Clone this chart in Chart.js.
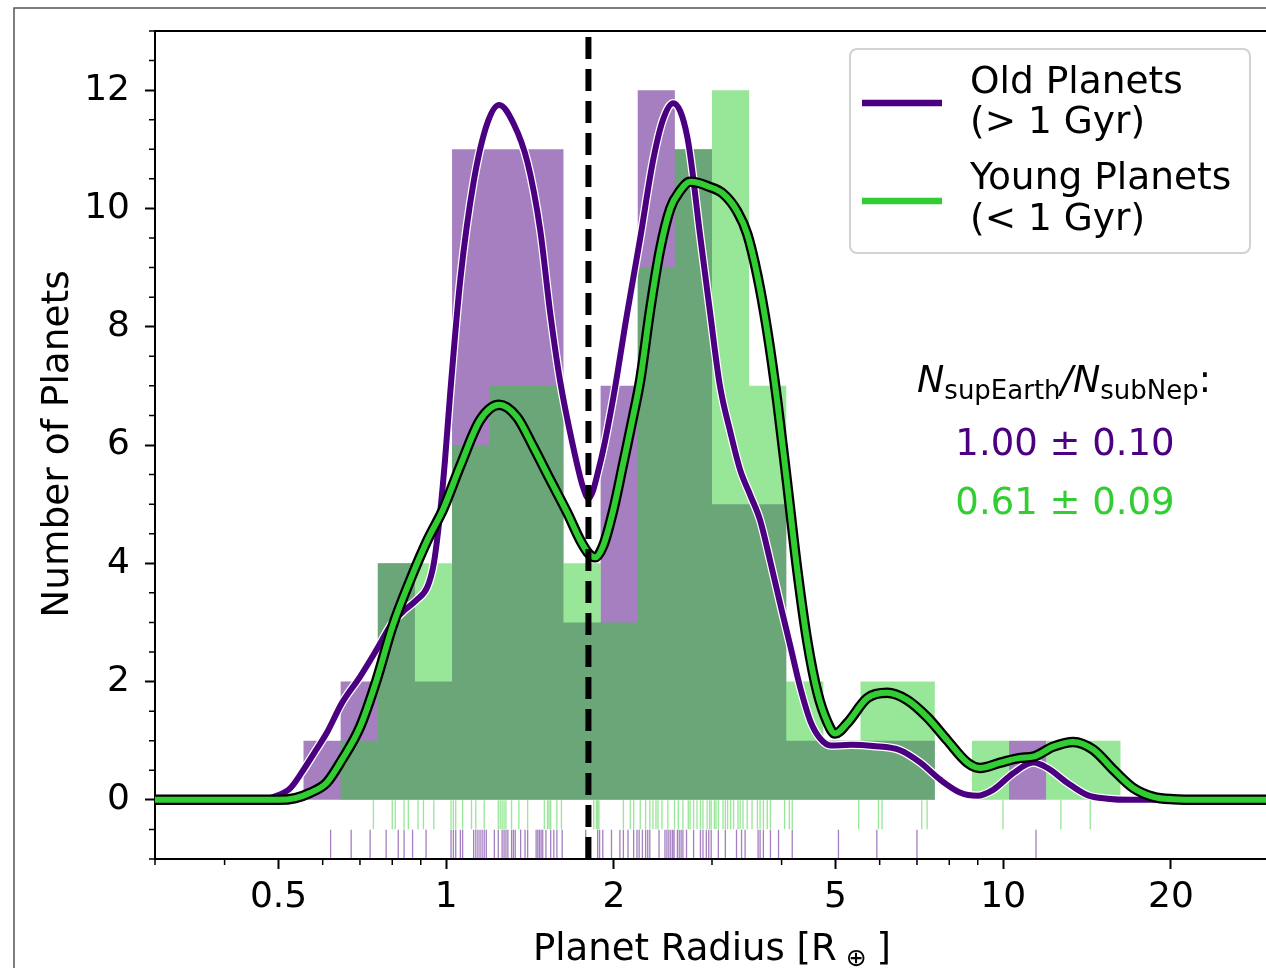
<!DOCTYPE html>
<html>
<head>
<meta charset="utf-8">
<title>Planet radius distribution</title>
<script src="https://cdn.jsdelivr.net/npm/chart.js@4.4.1/dist/chart.umd.min.js"></script>
<style>
  html, body { margin: 0; padding: 0; background: #fff; overflow: hidden; }
  #wrap { width: 1266px; height: 968px; overflow: hidden; position: relative; }
  #chart { display: block; }
</style>
</head>
<body>
<div id="wrap"><canvas id="chart" width="1275" height="968"></canvas></div>
<script>
// histogram bins, log-spaced in planet radius [R_earth]
const binEdges = [0.3, 0.3498, 0.4078, 0.4755, 0.5543, 0.6463, 0.7536, 0.8786, 1.0243, 1.1943,
  1.3925, 1.6235, 1.8929, 2.2069, 2.5731, 3.0, 3.498, 4.078, 4.755, 5.543,
  6.463, 7.536, 8.786, 10.243, 11.943, 13.925, 16.235, 18.929, 22.069, 25.731, 30.0]
const oldCounts   = [0, 0, 0, 0, 1, 2, 4, 2, 11, 11, 11, 3, 7, 12, 11, 5, 5, 1, 1, 1, 1, 0, 0, 1, 0, 0, 0, 0, 0, 0]
const youngCounts = [0, 0, 0, 0, 0, 1, 4, 4, 6, 7, 7, 4, 3, 9, 11, 12, 7, 2, 1, 2, 2, 0, 1, 0, 1, 1, 0, 0, 0, 0]

// smoothed density curves (scaled to counts)
const oldCurveR = [0.3, 0.46, 0.5, 0.525, 0.55, 0.58, 0.61, 0.65, 0.70, 0.75, 0.80, 0.845, 0.885, 0.925, 0.95,
  0.975, 0.995, 1.015, 1.06, 1.12, 1.185, 1.245, 1.32, 1.40, 1.475, 1.537, 1.60, 1.69, 1.76, 1.80,
  1.89, 1.995, 2.11, 2.23, 2.35, 2.45, 2.555, 2.71, 2.86, 2.98, 3.10, 3.24, 3.37, 3.515, 3.66,
  3.82, 3.98, 4.15, 4.32, 4.51, 4.70, 4.90, 5.32, 5.84, 6.53, 7.10, 7.71, 8.38, 8.98, 9.59,
  10.42, 11.32, 12.0, 13.03, 14.16, 15.38, 16.9, 30]
const oldCurveN = [0, 0, 0.08, 0.2, 0.46, 0.8, 1.13, 1.64, 2.08, 2.54, 2.99, 3.22, 3.38, 3.6, 4.0,
  4.85, 5.75, 6.8, 8.8, 10.45, 11.44, 11.75, 11.44, 10.77, 9.63, 8.23, 7.1, 5.97, 5.29, 5.1,
  5.7, 6.8, 8.2, 9.5, 10.8, 11.5, 11.78, 11.2, 9.5, 8.2, 7.0, 6.2, 5.58, 5.15, 4.73,
  4.02, 3.3, 2.59, 1.9, 1.32, 1.03, 0.92, 0.93, 0.91, 0.84, 0.63, 0.34, 0.12, 0.07, 0.17,
  0.45, 0.63, 0.54, 0.29, 0.08, 0.02, 0, 0]
const youngCurveR = [0.3, 0.5, 0.536, 0.57, 0.61, 0.65, 0.70, 0.75, 0.80, 0.862, 0.925, 0.988, 1.06, 1.15, 1.245,
  1.34, 1.433, 1.537, 1.65, 1.74, 1.80, 1.85, 1.914, 1.995, 2.08, 2.167, 2.23, 2.324, 2.42, 2.525,
  2.63, 2.74, 2.84, 2.94, 3.14, 3.33, 3.47, 3.62, 3.77, 3.93, 4.10, 4.27, 4.45, 4.64, 4.83, 4.99,
  5.25, 5.70, 6.19, 6.72, 7.30, 7.93, 8.62, 9.09, 9.88, 10.73, 11.32, 12.3, 13.36, 14.5, 15.76,
  17.12, 18.6, 20.2, 22.6, 30]
const youngCurveN = [0, 0, 0.03, 0.12, 0.29, 0.68, 1.23, 2.03, 2.92, 3.72, 4.39, 4.92, 5.65, 6.42, 6.68,
  6.47, 5.97, 5.41, 4.85, 4.39, 4.17, 4.1, 4.3, 4.9, 5.7, 6.5, 7.1, 8.3, 9.3, 10.0,
  10.3, 10.45, 10.43, 10.38, 10.25, 9.95, 9.57, 8.86, 7.93, 6.73, 5.29, 3.87, 2.67, 1.81, 1.32, 1.12,
  1.3, 1.72, 1.81, 1.69, 1.4, 1.01, 0.63, 0.54, 0.63, 0.71, 0.73, 0.9, 0.98, 0.85, 0.51,
  0.2, 0.05, 0.01, 0, 0]

// individual planet radii (rug marks)
const youngRadii = [0.74, 0.80, 0.81, 0.84, 0.855, 0.89, 0.91, 0.95, 1.02, 1.03, 1.04, 1.07, 1.11, 1.13, 1.17,
  1.24, 1.25, 1.26, 1.27, 1.28, 1.31, 1.35, 1.40, 1.50, 1.52, 1.53, 1.54, 1.58, 1.61, 1.84,
  1.86, 1.87, 1.88, 2.08, 2.14, 2.17, 2.23, 2.28, 2.32, 2.35, 2.38, 2.40, 2.44, 2.50, 2.57,
  2.61, 2.66, 2.72, 2.74, 2.78, 2.82, 2.86, 2.89, 2.94, 2.97, 2.99, 3.03, 3.05, 3.08, 3.14,
  3.17, 3.20, 3.24, 3.28, 3.34, 3.37, 3.41, 3.47, 3.54, 3.62, 3.66, 3.71, 3.77, 3.82, 4.05,
  4.13, 4.18, 5.50, 5.97, 6.06, 7.14, 7.30, 9.99, 12.69, 14.33]
const oldRadii = [0.62, 0.675, 0.73, 0.78, 0.82, 0.84, 0.87, 0.92, 1.02, 1.03, 1.04, 1.06, 1.07, 1.12, 1.13,
  1.14, 1.15, 1.16, 1.17, 1.18, 1.22, 1.24, 1.26, 1.27, 1.28, 1.29, 1.31, 1.32, 1.33, 1.36,
  1.385, 1.40, 1.45, 1.46, 1.47, 1.48, 1.49, 1.51, 1.54, 1.56, 1.58, 1.615, 1.78, 1.87, 1.885,
  1.91, 1.98, 2.05, 2.08, 2.12, 2.17, 2.20, 2.22, 2.25, 2.28, 2.30, 2.32, 2.41, 2.47, 2.49,
  2.51, 2.53, 2.55, 2.565, 2.60, 2.62, 2.64, 2.66, 2.70, 2.78, 2.86, 2.89, 2.93, 2.96, 2.99,
  3.08, 3.17, 3.32, 3.39, 3.44, 3.63, 3.66, 3.71, 3.82, 3.95, 4.18, 5.06, 5.93, 7.00, 11.45]

const gapRadius = 1.8

const xMajorTicks = [0.5, 1, 2, 5, 10, 20]
const xTickLabels = ['0.5', '1', '2', '5', '10', '20']
const xMinorTicks = [0.3, 0.4, 0.6, 0.7, 0.8, 0.9, 3, 4, 6, 7, 8, 9, 30]
const yMajorTicks = [0, 2, 4, 6, 8, 10, 12]
const yMinorTicks = [-1, -0.5, 0.5, 1, 1.5, 2.5, 3, 3.5, 4.5, 5, 5.5, 6.5, 7, 7.5, 8.5, 9, 9.5, 10.5, 11, 11.5, 12.5, 13]

const legendLines = [['Old Planets', '(> 1 Gyr)'], ['Young Planets', '(< 1 Gyr)']]
const ratioLabels = ['1.00 ± 0.10', '0.61 ± 0.09']

const INDIGO = '#4b0082'
const LIME = '#32cd32'
const FONT = '"DejaVu Sans", "Liberation Sans", sans-serif'

const toPoints = (xs, ys) => xs.map((x, i) => ({ x: x, y: ys[i] }))
const histPoints = counts => counts.map((c, i) => ({ x: binEdges[i], y: c }))
  .concat([{ x: binEdges[binEdges.length - 1], y: 0 }])
const rugPoints = (radii, y) => radii.map(r => ({ x: r, y: y }))

const curve = (data, color, width, order) => ({
  data: data, borderColor: color, borderWidth: width, pointRadius: 0,
  cubicInterpolationMode: 'monotone', fill: false, order: order
})
const rug = (data, color, order) => ({
  data: data, showLine: false, pointStyle: 'line', pointRotation: 90, pointRadius: 14.5,
  pointBorderWidth: 1.3, pointBorderColor: color, pointBackgroundColor: color, order: order
})
const hist = (data, color, order) => ({
  data: data, stepped: true, fill: 'origin', backgroundColor: color,
  borderWidth: 0, pointRadius: 0, order: order
})

// keep the plot box fixed: no extra room for tick labels at the ends
const noPadding = s => {
  s.paddingLeft = 0
  s.paddingRight = 0
  s.paddingTop = 0
  s.paddingBottom = 0
}

// extra drawing: frame, minor ticks, axis titles, legend, annotation
const decorations = {
  id: 'decorations',
  beforeDraw(chart) {
    const ctx = chart.ctx
    ctx.save()
    ctx.fillStyle = '#fff'
    ctx.fillRect(0, 0, chart.width, chart.height)
    ctx.strokeStyle = '#555'
    ctx.lineWidth = 1.5
    ctx.strokeRect(14, 8, chart.width + 20, chart.height + 20)
    ctx.restore()
  },
  afterDraw(chart) {
    const ctx = chart.ctx
    const area = chart.chartArea
    const xs = chart.scales.x
    const ys = chart.scales.y
    ctx.save()

    // minor ticks and the top / right spines
    ctx.strokeStyle = '#000'
    ctx.lineWidth = 1.5
    ctx.beginPath()
    xMinorTicks.forEach(v => {
      const px = xs.getPixelForValue(v)
      ctx.moveTo(px, area.bottom)
      ctx.lineTo(px, area.bottom + 6)
    })
    yMinorTicks.forEach(v => {
      const py = ys.getPixelForValue(v)
      ctx.moveTo(area.left - 6, py)
      ctx.lineTo(area.left, py)
    })
    ctx.stroke()
    ctx.lineWidth = 2
    ctx.beginPath()
    ctx.moveTo(area.left - 1, area.top)
    ctx.lineTo(area.right, area.top)
    ctx.lineTo(area.right, area.bottom)
    ctx.stroke()

    // axis titles
    ctx.fillStyle = '#000'
    ctx.textBaseline = 'alphabetic'
    ctx.font = '37.5px ' + FONT
    ctx.save()
    ctx.translate(68, 444)
    ctx.rotate(-Math.PI / 2)
    ctx.textAlign = 'center'
    ctx.fillText('Number of Planets', 0, 0)
    ctx.restore()

    ctx.textAlign = 'left'
    ctx.font = '37px ' + FONT
    let tx = 533
    ctx.fillText('Planet Radius [R', tx, 960)
    tx += ctx.measureText('Planet Radius [R').width + 9
    ctx.font = '25px ' + FONT
    ctx.fillText('\u2295', tx, 966)
    tx += ctx.measureText('\u2295').width
    ctx.font = '37px ' + FONT
    ctx.fillText(' ]', tx - 2, 960)

    // legend box
    const bx = 850, by = 49, bw = 400, bh = 204, r = 7
    ctx.beginPath()
    ctx.moveTo(bx + r, by)
    ctx.arcTo(bx + bw, by, bx + bw, by + bh, r)
    ctx.arcTo(bx + bw, by + bh, bx, by + bh, r)
    ctx.arcTo(bx, by + bh, bx, by, r)
    ctx.arcTo(bx, by, bx + bw, by, r)
    ctx.closePath()
    ctx.fillStyle = 'rgba(255,255,255,0.8)'
    ctx.fill()
    ctx.strokeStyle = '#d2d2d2'
    ctx.lineWidth = 2
    ctx.stroke()

    const swatch = [INDIGO, LIME]
    const lineY = [103, 201]
    const textY = [[93, 133], [189, 230]]
    ctx.font = '37.5px ' + FONT
    legendLines.forEach((lines, i) => {
      ctx.strokeStyle = swatch[i]
      ctx.lineWidth = 6.5
      ctx.beginPath()
      ctx.moveTo(862, lineY[i])
      ctx.lineTo(942, lineY[i])
      ctx.stroke()
      ctx.fillStyle = '#000'
      lines.forEach((t, j) => ctx.fillText(t, 970, textY[i][j]))
    })

    // N_supEarth / N_subNep ratio
    const parts = [
      { t: 'N', f: 'italic 36.5px ' + FONT, dy: 0 },
      { t: 'supEarth', f: '26px ' + FONT, dy: 7 },
      { t: '/', f: 'italic 36.5px ' + FONT, dy: 0 },
      { t: 'N', f: 'italic 36.5px ' + FONT, dy: 0 },
      { t: 'subNep', f: '26px ' + FONT, dy: 7 },
      { t: ':', f: '36.5px ' + FONT, dy: 0 }
    ]
    let total = 0
    parts.forEach(p => { ctx.font = p.f; p.w = ctx.measureText(p.t).width; total += p.w })
    let px = 1064 - total / 2
    ctx.fillStyle = '#000'
    parts.forEach(p => {
      ctx.font = p.f
      ctx.fillText(p.t, px, 392 + p.dy)
      px += p.w
    })
    ctx.textAlign = 'center'
    ctx.font = '37px ' + FONT
    ctx.fillStyle = INDIGO
    ctx.fillText(ratioLabels[0], 1065, 455)
    ctx.fillStyle = LIME
    ctx.fillText(ratioLabels[1], 1065, 514)
    ctx.restore()
  }
}

const tickFont = { family: FONT, size: 36 }

new Chart(document.getElementById('chart'), {
  type: 'line',
  data: {
    datasets: [
      { data: [{ x: gapRadius, y: -1 }, { x: gapRadius, y: 13 }], borderColor: '#000', borderWidth: 6,
        borderDash: [22, 10], pointRadius: 0, order: 0 },
      curve(toPoints(youngCurveR, youngCurveN), LIME, 6, 1),
      curve(toPoints(youngCurveR, youngCurveN), '#000', 10.5, 2),
      curve(toPoints(oldCurveR, oldCurveN), INDIGO, 6, 3),
      curve(toPoints(oldCurveR, oldCurveN), '#fff', 8.5, 4),
      rug(rugPoints(youngRadii, -0.25), 'rgba(50,205,50,0.5)', 5),
      rug(rugPoints(oldRadii, -0.75), 'rgba(75,0,130,0.5)', 6),
      hist(histPoints(youngCounts), 'rgba(50,205,50,0.5)', 7),
      hist(histPoints(oldCounts), 'rgba(75,0,130,0.5)', 8)
    ]
  },
  options: {
    responsive: false,
    animation: false,
    events: [],
    // rug marks have a large point radius; don't let it shrink the plot box
    layout: { autoPadding: false, padding: { left: 0, top: 31, right: 6, bottom: 0 } },
    plugins: { legend: { display: false }, tooltip: { enabled: false } },
    scales: {
      x: {
        type: 'logarithmic',
        min: 0.3,
        max: 30,
        afterBuildTicks: s => { s.ticks = xMajorTicks.map(v => ({ value: v })) },
        afterFit: s => { s.height = 109; noPadding(s) },
        ticks: {
          callback: (v, i) => xTickLabels[i],
          font: tickFont, color: '#000', padding: 7, maxRotation: 0, autoSkip: false
        },
        grid: { drawOnChartArea: false, tickLength: 10, tickWidth: 2, tickColor: '#000' },
        border: { color: '#000', width: 2 }
      },
      y: {
        type: 'linear',
        min: -1,
        max: 13,
        afterBuildTicks: s => { s.ticks = yMajorTicks.map(v => ({ value: v })) },
        afterFit: s => { s.width = 155; noPadding(s) },
        ticks: { callback: v => String(v), font: tickFont, color: '#000', padding: 15 },
        grid: { drawOnChartArea: false, tickLength: 10, tickWidth: 2, tickColor: '#000' },
        border: { color: '#000', width: 2 }
      }
    }
  },
  plugins: [decorations]
})
</script>
</body>
</html>
